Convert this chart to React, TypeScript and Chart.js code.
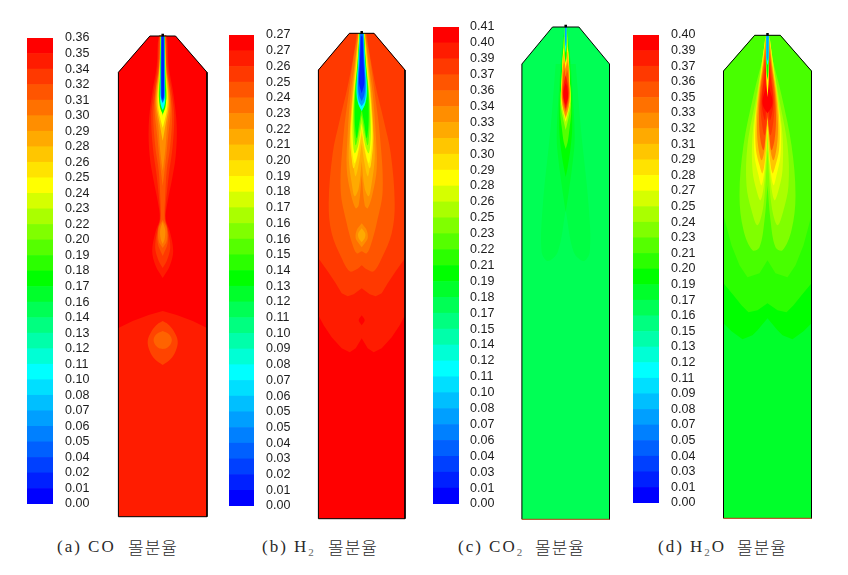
import React, { useEffect, useRef } from "react";
import { Chart, registerables } from "chart.js";

Chart.register(...registerables);

// Rainbow colour levels of the contour legend, bottom to top
const palette = [
  "#0000ff", "#0020ff", "#0040ff", "#0060ff", "#0080ff", "#009fff", "#00bfff", "#00dfff", "#00ffff", "#00ffd5",
  "#00ffaa", "#00ff80", "#00ff55", "#00ff2b", "#00ff00", "#2bff00", "#55ff00", "#80ff00", "#aaff00", "#d5ff00",
  "#ffff00", "#ffe300", "#ffc600", "#ffaa00", "#ff8e00", "#ff7100", "#ff5500", "#ff3900", "#ff1c00", "#ff0000",
];

// Legend tick labels, top to bottom
const coTicks = ["0.36","0.35","0.34","0.32","0.31","0.30","0.29","0.28","0.26","0.25","0.24","0.23","0.22","0.20","0.19","0.18","0.17","0.16","0.14","0.13","0.12","0.11","0.10","0.08","0.07","0.06","0.05","0.04","0.02","0.01","0.00"];
const h2Ticks = ["0.27","0.27","0.26","0.25","0.24","0.23","0.22","0.21","0.20","0.19","0.18","0.17","0.16","0.16","0.15","0.14","0.13","0.12","0.11","0.10","0.09","0.08","0.07","0.06","0.05","0.05","0.04","0.03","0.02","0.01","0.00"];
const co2Ticks = ["0.41","0.40","0.39","0.37","0.36","0.34","0.33","0.32","0.30","0.29","0.28","0.26","0.25","0.23","0.22","0.21","0.19","0.18","0.17","0.15","0.14","0.12","0.11","0.10","0.08","0.07","0.06","0.04","0.03","0.01","0.00"];
const h2oTicks = ["0.40","0.39","0.37","0.36","0.35","0.33","0.32","0.31","0.29","0.28","0.27","0.25","0.24","0.23","0.21","0.20","0.19","0.17","0.16","0.15","0.13","0.12","0.11","0.09","0.08","0.07","0.05","0.04","0.03","0.01","0.00"];

type Profile = number[][];
type Level = [number, Profile];

// Contour levels: [colour level, path of [distance from the top, half-width]], painted in order
const coLevels: Level[] = [
  [28, [[0,12.8],[36.3,44.3],[480.7,44.3]]],
  [29, [[0,12.8],[36.3,44.3],[292,44.3],[285,30],[279,14],[275,0]]],
  [28, [[0,0],[0,4],[30,6],[60,11],[90,14],[120,13],[145,9],[165,5],[183,3],[195,7],[215,10.5],[230,7],[242,0]]],
  [27, [[0,0],[0,3.5],[30,5],[60,9.5],[80,11.5],[110,10],[140,6],[170,3],[183,2.5],[195,5.5],[212,7.5],[225,4],[232,0]]],
  [26, [[0,3],[30,4],[60,8],[80,9.5],[110,7.5],[135,4],[160,2.5],[183,2],[192,4.5],[207,5],[220,0]]],
  [25, [[184,0],[192,4],[205,4],[212,0]]],
  [24, [[186,0],[194,2.5],[203,2],[208,0]]],
  [25, [[0,2.5],[30,3.5],[55,7],[75,8],[100,5.5],[125,3],[150,0]]],
  [24, [[0,2.5],[30,3.2],[55,6.5],[72,7],[90,4.5],[115,2.5],[135,0]]],
  [22, [[0,2.3],[30,3],[55,5.5],[70,6],[85,3.5],[105,0]]],
  [20, [[0,2.2],[40,3.2],[60,5],[75,4],[92,0]]],
  [17, [[0,2],[40,3],[60,4],[70,2],[80,0]]],
  [14, [[0,2],[40,2.6],[62,3.5],[72,2.5],[78,0]]],
  [8, [[0,1.5],[50,2.2],[65,2.5],[72,1],[74,0]]],
  [3, [[0,1.6],[50,1.9],[62,1.7],[67,0]]],
  [1, [[0,1],[60,1.2],[64,0]]],
  [26.6, [[285,0],[288,5],[295,11],[305,15],[315,13],[323,8],[329,0]]],
  [25.5, [[295,0],[298,6],[303,9],[308,8],[312,4],[313,0]]],
];

const h2Levels: Level[] = [
  [29, [[0,12.3],[36.7,43.3],[485.4,43.3]]],
  [28, [[0,12.3],[36.7,43.3],[282,43.3],[292,38],[304,30],[315,20],[319,12],[315,6],[305,0]]],
  [27, [[0,12.3],[36.7,43.3],[225,43.3],[238,34],[250,26],[260,20],[263,14],[261,8],[255,0]]],
  [29, [[282,0],[287,3],[292,0]]],
  [26, [[0,5],[15,7],[53,14],[87,22],[120,29],[170,33],[200,30],[225,20],[238,12],[236,5],[232,0]]],
  [25, [[0,4],[30,9],[60,13],[100,18],[157,21],[190,15],[212,9],[220,5],[218,0]]],
  [24, [[190,0],[197,5],[205,6],[210,3],[214,0]]],
  [23, [[195,0],[200,3.5],[205,3],[209,0]]],
  [24, [[0,3.5],[30,7],[60,11],[100,14],[135,15],[160,11],[175,6],[172,3],[142,0]]],
  [23, [[0,3.2],[30,6.5],[60,9.5],[100,12],[125,13],[150,10],[163,7],[155,3],[128,0]]],
  [22, [[0,3],[30,6],[60,9],[90,11],[115,11],[135,8],[143,6],[128,2.5],[110,0]]],
  [21, [[0,2.9],[30,5.5],[60,8.5],[85,10.5],[105,11.5],[125,10],[135,8],[120,3.5],[100,0]]],
  [20, [[0,2.7],[30,5],[60,8],[85,10],[105,10.5],[122,9],[130,7],[115,3],[95,0]]],
  [18, [[0,2.5],[30,4.5],[60,7.5],[85,9],[105,9],[120,7],[112,3.5],[90,0]]],
  [16, [[0,2.3],[30,4.2],[60,7],[85,8],[100,7.5],[112,6],[100,3],[82,0]]],
  [14, [[0,2.1],[30,4],[60,6.5],[80,7],[95,6.5],[105,5],[90,2.5],[76,0]]],
  [11, [[0,2],[30,3.6],[60,5.5],[72,3],[77,0]]],
  [8, [[0,1.8],[30,3.4],[55,5],[70,3.5],[78,0]]],
  [5, [[0,1.6],[30,3],[55,4.3],[68,3],[73,0]]],
  [3, [[0,1.4],[30,2.5],[50,3.6],[62,2.5],[68,0]]],
  [1, [[3,0.8],[30,1.8],[50,2.6],[60,0]]],
];

const co2Levels: Level[] = [
  [12, [[0,13.2],[37,43.8],[492.3,43.8]]],
  [12.4, [[37,10],[100,15],[180,23],[225,24],[234,18],[225,8],[183,0]]],
  [13, [[0,1],[20,3.5],[60,6.5],[110,9],[135,7],[165,3],[185,0]]],
  [14, [[0,1.2],[30,3.5],[60,5.5],[100,6.5],[120,5],[140,2],[150,0]]],
  [16, [[0,1.2],[30,3],[60,4.6],[85,5.5],[100,4],[115,2],[122,0]]],
  [18, [[0,1.2],[25,2.5],[55,4.2],[78,5],[90,3],[103,0]]],
  [20, [[15,0],[25,2.6],[50,3.9],[72,4.8],[84,2.8],[95,0]]],
  [22, [[20,0],[30,2.6],[50,3.6],[70,4.4],[82,2.8],[92,0]]],
  [24, [[30,0],[40,2.8],[55,3.5],[68,4],[80,2.8],[90,0]]],
  [26, [[38,0],[46,2.2],[56,3],[66,3.6],[76,2.6],[85,0]]],
  [28, [[48,0],[56,1.8],[66,2.8],[74,2],[82,0]]],
  [29, [[56,0],[60,1.3],[68,2.3],[74,1.5],[78,0]]],
  [24, [[25,1.6],[40,1.4],[50,0]]],
  [20, [[10,1.4],[32,1.3],[42,0]]],
  [14, [[0,1.2],[28,1],[36,0]]],
  [8, [[0,1],[18,0.8],[26,0]]],
  [5, [[0,0.8],[15,0.6],[20,0]]],
];

const h2oLevels: Level[] = [
  [13, [[0,12.8],[35.7,44],[483,44]]],
  [14, [[0,12.8],[35.7,44],[288,44],[296,36],[304,25],[300,15],[295,10],[283,0]]],
  [15, [[0,12.8],[35.7,44],[248,44],[260,34],[270,26],[277,19],[275,10],[268,0]]],
  [15.7, [[0,12.8],[35.7,44],[180,44],[210,36],[230,28],[242,20],[238,8],[225,0]]],
  [17, [[20,4],[60,14],[110,24],[160,28],[195,24],[215,15],[212,8],[185,3],[150,0]]],
  [18, [[10,3],[60,11],[110,20],[150,21],[175,16],[190,10],[170,4],[115,0]]],
  [19, [[5,2.5],[60,10],[100,15],[135,15],[155,11],[165,7],[145,3],[100,0]]],
  [20, [[3,2.3],[60,9],[90,13],[120,13],[140,9],[150,6],[130,2.5],[92,0]]],
  [22, [[3,2],[30,5],[60,9.5],[90,12],[115,11.5],[130,8],[138,5],[120,2],[88,0]]],
  [24, [[5,1.8],[30,4.5],[60,8.5],[90,10.5],[110,9.5],[125,6],[115,3],[95,1.5],[82,0]]],
  [26, [[8,1.6],[30,3.8],[60,7.5],[85,8.5],[105,7],[115,4],[100,1.8],[80,0]]],
  [27, [[15,1.5],[30,3],[50,5],[68,7],[85,6],[100,3],[88,1],[78,0]]],
  [28, [[25,1.2],[45,3.5],[60,5.5],[72,5.5],[85,2.5],[72,1],[76,0]]],
  [29, [[42,0],[55,2.5],[65,5],[72,4],[78,0]]],
  [20, [[0,2],[45,1.2],[62,0]]],
  [14, [[0,1.8],[35,1],[45,0]]],
  [8, [[0,1.4],[25,1],[30,0]]],
  [5, [[0,1.2],[22,0.8],[26,0]]],
];

type Layout = {
  ticks: string[]; levels: Level[];
  barLeft: number; barTop: number; barBottom: number; barWidth: number; labelGap: number;
  center: number; top: number; height: number; half: number; flat: number; shoulder: number; floor: string;
};

const panels: Layout[] = [
  { ticks: coTicks, levels: coLevels, barLeft: 27, barTop: 38, barBottom: 504, barWidth: 26, labelGap: 12, center: 162.7, top: 36, height: 480.7, half: 44.3, flat: 12.8, shoulder: 36.3, floor: "#000000" },
  { ticks: h2Ticks, levels: h2Levels, barLeft: 229, barTop: 35, barBottom: 505.7, barWidth: 25, labelGap: 12, center: 361.7, top: 33.3, height: 485.4, half: 43.3, flat: 12.3, shoulder: 36.7, floor: "#000000" },
  { ticks: co2Ticks, levels: co2Levels, barLeft: 433, barTop: 27, barBottom: 504, barWidth: 26, labelGap: 11, center: 565.7, top: 27, height: 492.3, half: 43.8, flat: 13.2, shoulder: 37, floor: "#b03a10" },
  { ticks: h2oTicks, levels: h2oLevels, barLeft: 633, barTop: 35, barBottom: 503.3, barWidth: 26, labelGap: 12, center: 767.5, top: 35.3, height: 483, half: 44, flat: 12.8, shoulder: 35.7, floor: "#c0300c" },
];

const captions = [
  { left: 57, wordLeft: 128, head: "(a) CO", sub: "", tail: "" },
  { left: 262, wordLeft: 328, head: "(b) H", sub: "2", tail: "" },
  { left: 458, wordLeft: 535, head: "(c) CO", sub: "2", tail: "" },
  { left: 658, wordLeft: 737, head: "(d) H", sub: "2", tail: "O" },
];
const captionWord = "몰분율";

function levelColour(c: number) {
  const lo = Math.floor(c);
  if (lo === c) return palette[c];
  const hex = (s: string) => [1, 3, 5].map((i) => parseInt(s.slice(i, i + 2), 16));
  const a = hex(palette[lo]);
  const b = hex(palette[lo + 1]);
  const t = c - lo;
  return `rgb(${a.map((v, i) => Math.round(v + (b[i] - v) * t)).join(",")})`;
}

function makeLegend(canvas: HTMLCanvasElement, p: Layout) {
  return new Chart(canvas, {
    type: "bar",
    data: {
      labels: ["level"],
      datasets: palette.map((colour) => ({
        data: [1],
        backgroundColor: colour,
        stack: "legend",
        barPercentage: 1,
        categoryPercentage: 1,
        borderWidth: 0,
      })),
    },
    options: {
      animation: false,
      responsive: false,
      events: [],
      layout: { autoPadding: false, padding: { top: 9, bottom: 9, left: 0, right: 0 } },
      plugins: { legend: { display: false }, tooltip: { enabled: false }, title: { display: false } },
      scales: {
        x: { stacked: true, display: false },
        y: {
          stacked: true,
          position: "right",
          min: 0,
          max: palette.length,
          grid: { display: false, drawTicks: true, tickLength: p.labelGap, tickColor: "rgba(0,0,0,0)" },
          border: { display: false },
          afterFit: (s: any) => { s.width = 44; s.paddingTop = 0; s.paddingBottom = 0; },
          ticks: {
            stepSize: 1,
            autoSkip: false,
            maxRotation: 0,
            padding: 0,
            color: "#1c1c1c",
            font: { family: '"Liberation Sans", sans-serif', size: 12.5 },
            callback: (v: any) => p.ticks[palette.length - Number(v)],
          },
        },
      },
    } as any,
  });
}

function makeContour(canvas: HTMLCanvasElement, p: Layout, left: number, top: number) {
  const fills = p.levels.map(([c, path]) => ({
    data: [
      ...path.map(([y, w]) => ({ x: w, y })),
      ...[...path].reverse().map(([y, w]) => ({ x: -w, y })),
    ],
    showLine: true,
    fill: "shape",
    backgroundColor: levelColour(c),
    borderWidth: 0,
    pointRadius: 0,
    tension: path.some(([, w]) => w >= p.half) ? 0 : 0.35,
  }));
  const outline = {
    data: [
      { x: -p.half, y: p.height }, { x: -p.half, y: p.shoulder }, { x: -p.flat, y: 0 },
      { x: p.flat, y: 0 }, { x: p.half, y: p.shoulder }, { x: p.half, y: p.height },
    ],
    showLine: true,
    fill: false,
    borderColor: "#000000",
    borderWidth: 1,
    pointRadius: 0,
  };
  const floor = {
    data: [{ x: -p.half, y: p.height }, { x: p.half, y: p.height }],
    showLine: true,
    fill: false,
    borderColor: p.floor,
    borderWidth: 1,
    pointRadius: 0,
  };
  const nozzle = {
    data: [{ x: 0, y: -1 }],
    pointStyle: "rect",
    pointRadius: 1.8,
    backgroundColor: "#000000",
    borderWidth: 0,
  };
  return new Chart(canvas, {
    type: "scatter",
    data: { datasets: [nozzle, floor, outline, ...[...fills].reverse()] as any },
    options: {
      animation: false,
      responsive: false,
      events: [],
      layout: { autoPadding: false, padding: 0 },
      plugins: { legend: { display: false }, tooltip: { enabled: false }, title: { display: false } },
      scales: {
        x: { display: false, min: left - p.center, max: left - p.center + canvas.width },
        y: { display: false, reverse: true, min: top - p.top, max: top - p.top + canvas.height },
      },
    } as any,
  });
}

function Panel({ p }: { p: Layout }) {
  const legendRef = useRef<HTMLCanvasElement>(null);
  const plotRef = useRef<HTMLCanvasElement>(null);
  const plotLeft = Math.round(p.center - 50);
  const plotTop = Math.round(p.top - 8);
  const plotH = Math.round(p.height + 16);
  const legendH = Math.round(p.barBottom - p.barTop + 18);
  useEffect(() => {
    const a = makeLegend(legendRef.current!, p);
    const b = makeContour(plotRef.current!, p, plotLeft, plotTop);
    return () => { a.destroy(); b.destroy(); };
  }, []);
  return (
    <>
      <canvas
        ref={legendRef}
        width={p.barWidth + 44}
        height={legendH}
        style={{ position: "absolute", left: p.barLeft, top: Math.round(p.barTop - 9), width: p.barWidth + 44, height: legendH }}
      />
      <canvas
        ref={plotRef}
        width={100}
        height={plotH}
        style={{ position: "absolute", left: plotLeft, top: plotTop, width: 100, height: plotH }}
      />
    </>
  );
}

export default function App() {
  return (
    <div style={{ position: "absolute", left: 0, top: 0, width: 848, height: 575, overflow: "hidden", background: "#fff" }}>
      {panels.map((p, i) => <Panel key={i} p={p} />)}
      {captions.map((c, i) => (
        <React.Fragment key={i}>
          <div
            style={{
              position: "absolute", left: c.left, top: 537, whiteSpace: "pre", color: "#2a2a2a",
              fontFamily: '"Liberation Serif", serif', fontSize: 17, lineHeight: "20px", letterSpacing: 2,
            }}
          >
            {c.head}
            {c.sub && <sub style={{ fontSize: 11, lineHeight: 0, color: "#666" }}>{c.sub}</sub>}
            {c.tail}
          </div>
          <div
            style={{
              position: "absolute", left: c.wordLeft, top: 537, whiteSpace: "pre", color: "#2a2a2a",
              fontFamily: '"Noto Sans CJK KR", sans-serif', fontSize: 17, lineHeight: "20px", letterSpacing: 1, fontWeight: 300,
            }}
          >
            {captionWord}
          </div>
        </React.Fragment>
      ))}
    </div>
  );
}
